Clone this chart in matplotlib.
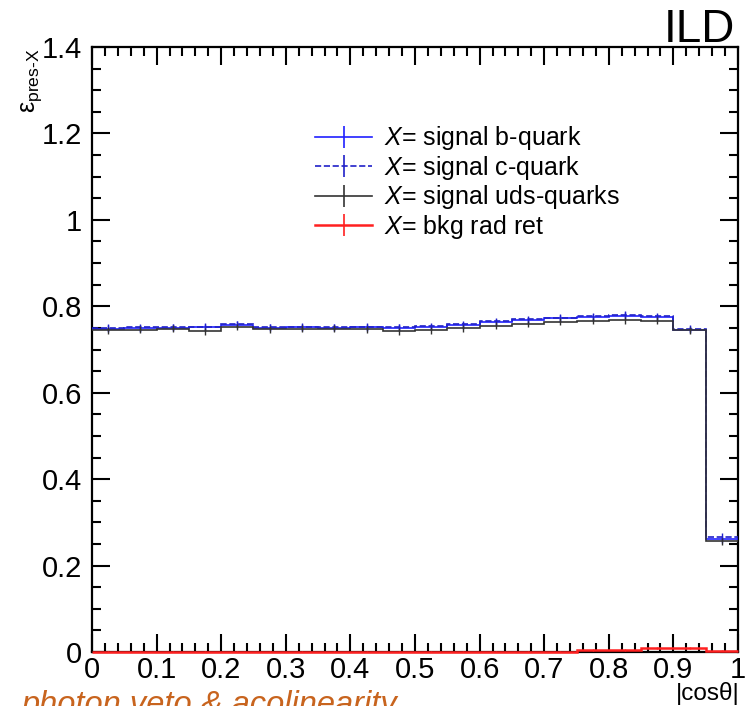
import matplotlib
matplotlib.use('Agg')
import matplotlib.pyplot as plt
from matplotlib.lines import Line2D
from matplotlib.legend_handler import HandlerTuple
import numpy as np

plt.rcParams['font.family'] = ['Liberation Sans', 'DejaVu Sans']
plt.rcParams['mathtext.fontset'] = 'custom'
plt.rcParams['mathtext.rm'] = 'Liberation Sans'
plt.rcParams['mathtext.it'] = 'Liberation Sans:italic'

# efficiency after preselection vs |cos theta|, 20 bins
edges = np.linspace(0, 1, 21)
eff_b = [0.748, 0.749, 0.750, 0.751, 0.757, 0.750, 0.751, 0.750, 0.751, 0.750,
         0.752, 0.756, 0.763, 0.768, 0.772, 0.775, 0.778, 0.775, 0.746, 0.261]
eff_c = [0.750, 0.751, 0.752, 0.753, 0.759, 0.752, 0.753, 0.752, 0.753, 0.752,
         0.754, 0.758, 0.765, 0.770, 0.774, 0.777, 0.780, 0.777, 0.748, 0.267]
eff_uds = [0.745, 0.746, 0.748, 0.742, 0.752, 0.747, 0.748, 0.748, 0.747, 0.742,
           0.745, 0.749, 0.755, 0.759, 0.764, 0.766, 0.768, 0.767, 0.744, 0.256]
eff_bkg = [0.001, 0.001, 0.001, 0.001, 0.001, 0.001, 0.001, 0.001, 0.001, 0.001,
           0.001, 0.001, 0.001, 0.001, 0.001, 0.004, 0.004, 0.009, 0.009, 0.002]
err_sig = 0.008
err_bkg = 0.002

labels = ['signal b-quark', 'signal c-quark', 'signal uds-quarks', 'bkg rad ret']
colors = ['#2020ff', '#2020c8', '#333333', '#ff2020']
styles = ['-', '--', '-', '-']

fig = plt.figure(figsize=(7.46, 7.06), dpi=100)
ax = fig.add_axes([0.1233, 0.0765, 0.866, 0.8569])

centers = 0.5 * (edges[1:] + edges[:-1])
handles = []
for vals, col, ls, lab in zip([eff_b, eff_c, eff_uds, eff_bkg], colors, styles, labels):
    lw = 1.8 if lab == 'bkg rad ret' else 1.2
    ax.stairs(vals, edges, color=col, linestyle=ls, lw=lw, baseline=None,
              zorder=5, clip_on=False)
    err = err_bkg if lab == 'bkg rad ret' else err_sig
    ax.errorbar(centers, vals, yerr=err, fmt='none', ecolor=col, elinewidth=1.0, zorder=5)
    handles.append((Line2D([], [], color=col, linestyle=ls, lw=lw),
                    Line2D([], [], color=col, marker='|', markersize=16,
                           markeredgewidth=1.2, lw=0)))

ax.set_xlim(0, 1)
ax.set_ylim(0, 1.4)
ax.set_xticks(np.arange(0, 1.01, 0.1))
ax.set_xticklabels(['0', '0.1', '0.2', '0.3', '0.4', '0.5', '0.6', '0.7', '0.8', '0.9', '1'])
ax.set_xticks(np.arange(0, 1.001, 0.02), minor=True)
ax.set_yticks(np.arange(0, 1.41, 0.2))
ax.set_yticklabels(['0', '0.2', '0.4', '0.6', '0.8', '1', '1.2', '1.4'])
ax.set_yticks(np.arange(0, 1.401, 0.05), minor=True)
ax.tick_params(which='both', direction='in', top=True, right=True, labelsize=21, width=1.5)
ax.tick_params(which='major', length=13)
ax.tick_params(which='minor', length=6.5)
ax.tick_params(axis='x', pad=3)
ax.tick_params(axis='y', pad=7)
for s in ax.spines.values():
    s.set_linewidth(1.6)

leg_labels = [r'$X$= ' + l for l in labels]
ax.legend(handles, leg_labels, loc='upper left', bbox_to_anchor=(0.345, 0.872),
          frameon=False, fontsize=18, handlelength=2.3, handletextpad=0.45,
          labelspacing=0.06, borderaxespad=0, borderpad=0,
          handler_map={tuple: HandlerTuple(ndivide=1, pad=0)})

fig.text(0.042, 0.932, '$\\mathrm{ε}_{\\mathrm{pres\u2010X}}$', rotation=90, fontsize=18,
         ha='center', va='top')
fig.text(0.992, 0.034, '|cosθ|', fontsize=17.5, ha='right', va='top')
fig.text(0.986, 0.9405, 'ILD', fontsize=33, ha='right', va='baseline')
fig.text(0.029, 0.022, 'photon veto & acolinearity', fontsize=23.5, style='italic',
         color='#c8641e', ha='left', va='top')

fig.savefig('out.png', dpi=100)
